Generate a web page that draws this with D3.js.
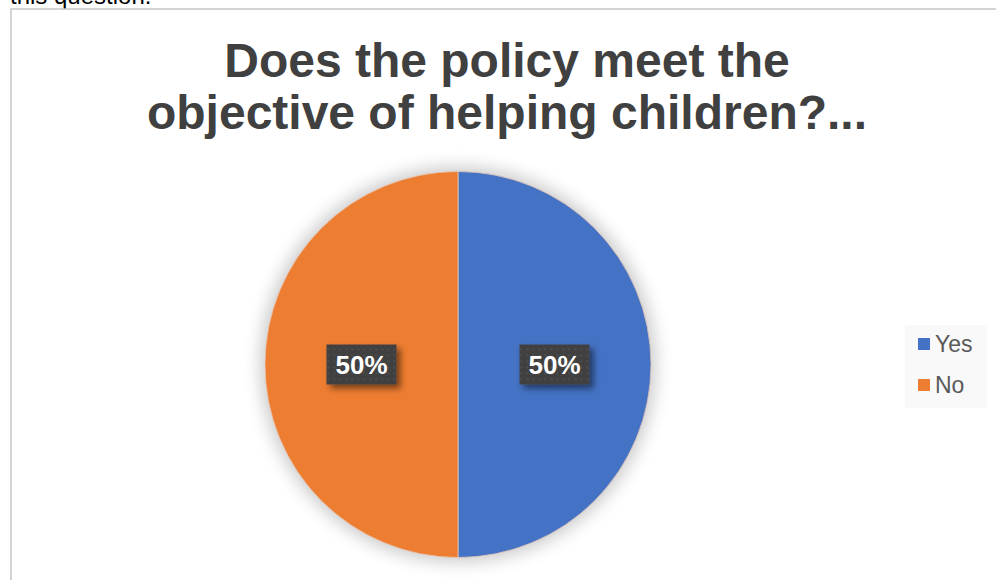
<!DOCTYPE html>
<html><head><meta charset="utf-8">
<script src="https://cdn.jsdelivr.net/npm/d3@7"></script>
<style>body{margin:0;background:#fff;overflow:hidden}svg{display:block;font-family:"Liberation Sans",Arial,sans-serif}</style>
</head><body>
<script>
const categories = ["Yes", "No"];
const values = [50, 50];
const labels = ["50%", "50%"];
const titleLines = ["Does the policy meet the", "objective of helping children?..."];
const colors = ["#4472C4", "#ED7D31"];

const W = 996, H = 580;
const svg = d3.select("body").append("svg").attr("width", W).attr("height", H);
const defs = svg.append("defs");
const f = defs.append("filter").attr("id", "glow").attr("x", "-30%").attr("y", "-30%").attr("width", "160%").attr("height", "160%");
f.append("feGaussianBlur").attr("stdDeviation", 9);
const ls = defs.append("filter").attr("id", "lshadow").attr("x", "-30%").attr("y", "-30%").attr("width", "160%").attr("height", "160%");
ls.append("feGaussianBlur").attr("in", "SourceAlpha").attr("stdDeviation", 3).attr("result", "b");
ls.append("feOffset").attr("dx", 4).attr("dy", 4).attr("result", "o");
ls.append("feComponentTransfer").append("feFuncA").attr("type", "linear").attr("slope", 0.5);
const m = ls.append("feMerge"); m.append("feMergeNode"); m.append("feMergeNode").attr("in", "SourceGraphic");
const pat = defs.append("pattern").attr("id", "dots").attr("width", 6).attr("height", 6).attr("patternUnits", "userSpaceOnUse");
pat.append("rect").attr("width", 6).attr("height", 6).attr("fill", "#404040");
pat.append("rect").attr("x", 2).attr("y", 2).attr("width", 1.5).attr("height", 1.5).attr("fill", "#595959");

// cut-off text above the chart (partially visible in the reference)
svg.append("text").attr("x", 10).attr("y", 4).attr("font-size", 24).attr("fill", "#000").text("this question.");
// chart border
svg.append("rect").attr("x", 11).attr("y", 9).attr("width", W).attr("height", H).attr("fill", "#fff").attr("stroke", "#c6c6c6").attr("stroke-width", 1.5);

// title
svg.append("text").attr("x", 507).attr("y", 77).attr("text-anchor", "middle")
  .attr("font-size", 48).attr("font-weight", "bold").attr("fill", "#404040")
  .selectAll("tspan").data(titleLines).join("tspan")
  .attr("x", 507).attr("dy", (d, i) => i ? 52 : 0).text(d => d);

const cx = 458, cy = 364.5, r = 193;
const g = svg.append("g").attr("transform", `translate(${cx},${cy})`);
g.append("circle").attr("r", r + 4).attr("fill", "#000").attr("opacity", 0.22).attr("filter", "url(#glow)");
const pie = d3.pie().sort(null).value(d => d)(values);
const arc = d3.arc().innerRadius(0).outerRadius(r);
g.selectAll("path").data(pie).join("path").attr("d", arc)
  .attr("fill", (d, i) => colors[i]).attr("stroke", "#e8c8b8").attr("stroke-width", 0.8);

const lblArc = d3.arc().innerRadius(r * 0.5).outerRadius(r * 0.5);
const lg = g.selectAll("g.lbl").data(pie).join("g").attr("class", "lbl")
  .attr("transform", d => { const [x, y] = lblArc.centroid(d); return `translate(${x},${y})`; });
lg.append("rect").attr("x", -35).attr("y", -20).attr("width", 70).attr("height", 40)
  .attr("fill", "url(#dots)").attr("filter", "url(#lshadow)");
lg.append("text").attr("text-anchor", "middle").attr("dy", 9).attr("font-size", 26)
  .attr("font-weight", "bold").attr("fill", "#fff").text((d, i) => labels[i]);

// legend
const leg = svg.append("g");
leg.append("rect").attr("x", 905).attr("y", 325).attr("width", 82).attr("height", 83).attr("fill", "#f9f9f9");
const li = leg.selectAll("g.li").data(categories).join("g").attr("class", "li")
  .attr("transform", (d, i) => `translate(918,${344 + i * 41})`);
li.append("rect").attr("x", 0).attr("y", -6).attr("width", 12).attr("height", 12).attr("fill", (d, i) => colors[i]);
li.append("text").attr("x", 17).attr("y", 8).attr("font-size", 23).attr("fill", "#595959").text(d => d);
</script>
</body></html>
